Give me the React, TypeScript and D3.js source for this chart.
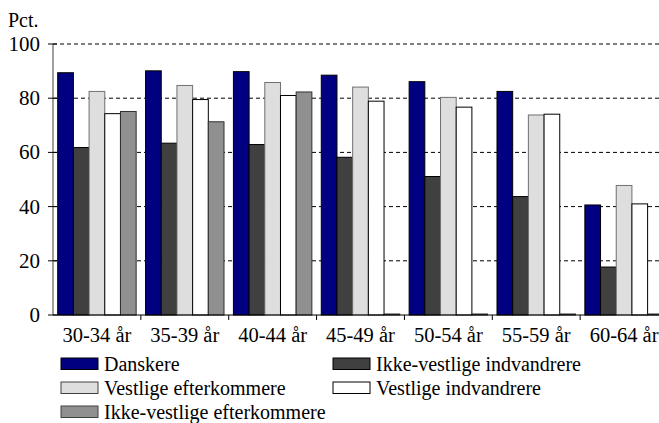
import React, { useEffect, useRef } from "react";
import * as d3 from "d3";

const categories = ["30-34 år", "35-39 år", "40-44 år", "45-49 år", "50-54 år", "55-59 år", "60-64 år"];
const seriesNames = [
  "Danskere",
  "Ikke-vestlige indvandrere",
  "Vestlige efterkommere",
  "Vestlige indvandrere",
  "Ikke-vestlige efterkommere",
];
const danskere = [89.4, 90.1, 89.8, 88.5, 86.1, 82.5, 40.6];
const ikkeVestligeIndvandrere = [61.8, 63.4, 62.9, 58.2, 51.1, 43.7, 17.7];
const vestligeEfterkommere = [82.5, 84.7, 85.8, 84.1, 80.3, 73.8, 47.8];
const vestligeIndvandrere = [74.3, 79.5, 81.0, 78.9, 76.7, 74.1, 41.0];
const ikkeVestligeEfterkommere = [75.1, 71.3, 82.3, 0, 0, 0, 0];
const yTicks = [0, 20, 40, 60, 80, 100];

const seriesValues = [danskere, ikkeVestligeIndvandrere, vestligeEfterkommere, vestligeIndvandrere, ikkeVestligeEfterkommere];
const fills = ["#000080", "#404040", "#dedede", "#ffffff", "#909090"];
const strokes = ["#000000", "#000000", "#707070", "#000000", "#303030"];

const fontNames = ["Liberation Serif", "Tinos", "DejaVu Serif"];
const FF = fontNames.map((f) => `"${f}"`).join(", ");

const W = 659;
const H = 423;

export default function App() {
  const ref = useRef<SVGSVGElement | null>(null);
  useEffect(() => {
    if (ref.current) {
      d3.select(ref.current).selectAll("text").attr("font-family", fontNames[0]).style("font-family", FF);
    }
  }, []);

  const x0 = d3.scaleBand<string>().domain(categories).range([53, 668]).paddingInner(0).paddingOuter(0);
  const x1 = d3.scaleBand<string>().domain(seriesNames).range([0, x0.bandwidth()]).paddingInner(0).paddingOuter(0.3);
  const y = d3.scaleLinear().domain([0, 100]).range([315, 44]);
  const left = 53;

  const legendPos = seriesNames.map((_, i) => ({
    x: i % 2 === 0 ? 61 : 333,
    y: 358 + Math.floor(i / 2) * 24,
  }));

  return (
    <svg ref={ref} width={W} height={H} style={{ position: "absolute", left: 0, top: 0 }}>
      <rect x={0} y={0} width={W} height={H} fill="#fff" />
      {yTicks.filter((t) => t > 0).map((t) => (
        <line key={t} x1={left} x2={W} y1={y(t)} y2={y(t)} stroke="#000" strokeWidth={1} strokeDasharray="4,3" />
      ))}
      {categories.map((c, ci) => (
        <g key={c} transform={`translate(${x0(c)},0)`}>
          {seriesNames.map((s, si) => {
            const v = seriesValues[si][ci];
            return (
              <rect
                key={s}
                x={x1(s)}
                y={Math.min(y(v), y(0) - 1)}
                width={x1.bandwidth()}
                height={Math.max(y(0) - y(v), 1)}
                fill={fills[si]}
                stroke={strokes[si]}
                strokeWidth={1}
              />
            );
          })}
        </g>
      ))}
      <line x1={left} x2={left} y1={y(100)} y2={y(0)} stroke="#808080" strokeWidth={1.5} />
      {yTicks.map((t) => (
        <g key={t}>
          <line x1={left - 5} x2={left + 4} y1={y(t)} y2={y(t)} stroke="#000" strokeWidth={1} />
          <text x={40} y={y(t) + 7} textAnchor="end" fontSize={21} style={{ fontFamily: FF }}>
            {String(t)}
          </text>
        </g>
      ))}
      <text x={8} y={27} fontSize={20} style={{ fontFamily: FF }}>Pct.</text>
      <line x1={left} x2={W} y1={y(0)} y2={y(0)} stroke="#000" strokeWidth={1} />
      {categories.map((c) => (
        <g key={c}>
          <line x1={(x0(c) as number) + x0.bandwidth()} x2={(x0(c) as number) + x0.bandwidth()} y1={y(0)} y2={y(0) + 5} stroke="#000" />
          <text x={(x0(c) as number) + x0.bandwidth() / 2} y={342} textAnchor="middle" fontSize={20.5} style={{ fontFamily: FF }}>
            {c}
          </text>
        </g>
      ))}
      {seriesNames.map((s, i) => (
        <g key={s} transform={`translate(${legendPos[i].x},${legendPos[i].y})`}>
          <rect x={0} y={0} width={37} height={11.5} fill={fills[i]} stroke={strokes[i] === "#000000" ? "#000" : "#404040"} strokeWidth={1} />
          <text x={43} y={13} fontSize={20} style={{ fontFamily: FF }}>
            {s}
          </text>
        </g>
      ))}
    </svg>
  );
}
